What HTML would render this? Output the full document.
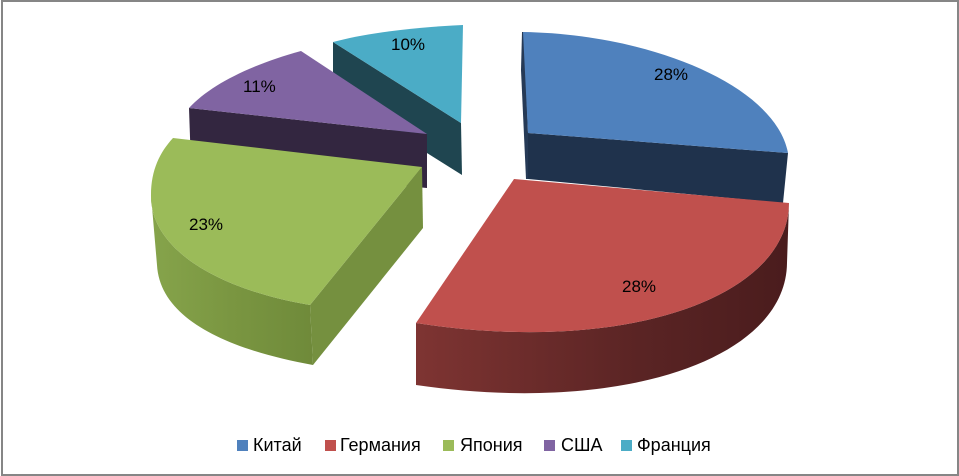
<!DOCTYPE html>
<html><head><meta charset="utf-8"><style>
html,body{margin:0;padding:0;background:#fff;}
svg{display:block;}
text{font-family:"Liberation Sans","DejaVu Sans",sans-serif;fill:#000;}
</style></head><body>
<svg width="959" height="476" viewBox="0 0 959 476" xmlns="http://www.w3.org/2000/svg">
<defs>
<linearGradient id="rg" x1="416" y1="0" x2="789" y2="0" gradientUnits="userSpaceOnUse">
<stop offset="0" stop-color="#7E3432"/><stop offset="0.6" stop-color="#5A2424"/><stop offset="1" stop-color="#4A1C1D"/>
</linearGradient>
<linearGradient id="gg" x1="150" y1="0" x2="313" y2="0" gradientUnits="userSpaceOnUse">
<stop offset="0" stop-color="#86A44B"/><stop offset="0.5" stop-color="#7A9641"/><stop offset="1" stop-color="#6F8A3A"/>
</linearGradient>
</defs>
<rect x="0" y="0" width="959" height="476" fill="#fff"/>
<rect x="2" y="1" width="956" height="474" fill="none" stroke="#868686" stroke-width="2"/>

<!-- Франция -->
<polygon points="333,42 461,123 462,175 333,94" fill="#1F4550"/>
<path d="M333,42 C370,32 420,27 463,25 L461,123 Z" fill="#4BACC6"/>

<!-- США -->
<polygon points="189,108 427,134 427,188 191,166" fill="#332640"/>
<path d="M189,108 C210,85 250,65 301,51 L427,134 Z" fill="#8064A2"/>

<!-- Китай -->
<polygon points="522,32 524,32 528,133 528,179 526,179 521,70" fill="#263A56"/>
<polygon points="528,133 788,153 783,203 528,179" fill="#1F324C"/>
<path d="M528,133 L523,32 C650,34 775,85 788,153 Z" fill="#4F81BD"/>

<!-- Япония -->
<path d="M151,195 C150,250 220,290 310,305 L313,365 C230,350 160,320 157,265 Z" fill="url(#gg)"/>
<polygon points="310,305 422,167 423,228 313,365" fill="#75903F"/>
<path d="M173,138 L422,167 L310,305 C220,290 150,250 151,195 C151,170 160,152 173,138 Z" fill="#9BBB59"/>

<!-- Германия -->
<path d="M789,203 C788,300 620,355 416,323 L416,385 C620,415 786,360 787,263 Z" fill="url(#rg)"/>
<path d="M514,179 L789,203 C788,300 620,355 416,323 Z" fill="#C0504D"/>

<!-- labels -->
<text x="654" y="80" font-size="17">28%</text>
<text x="622" y="292" font-size="17">28%</text>
<text x="189" y="230" font-size="17">23%</text>
<text x="243" y="92" font-size="17">11%</text>
<text x="391" y="50" font-size="17">10%</text>

<!-- legend -->
<rect x="237" y="440" width="11" height="11" fill="#4F81BD"/>
<text x="253" y="451" font-size="18">Китай</text>
<rect x="325" y="440" width="11" height="11" fill="#C0504D"/>
<text x="340" y="451" font-size="18">Германия</text>
<rect x="443" y="440" width="11" height="11" fill="#9BBB59"/>
<text x="460" y="451" font-size="18">Япония</text>
<rect x="544" y="440" width="11" height="11" fill="#8064A2"/>
<text x="561" y="451" font-size="18">США</text>
<rect x="621" y="440" width="11" height="11" fill="#4BACC6"/>
<text x="637" y="451" font-size="18">Франция</text>
</svg>
</body></html>
